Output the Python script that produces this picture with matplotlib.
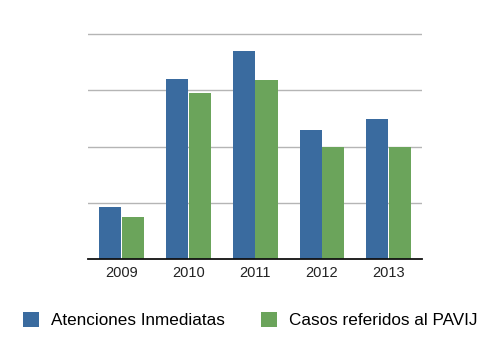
import numpy as np
import matplotlib.pyplot as plt
from matplotlib.patches import Patch

# Data (the y axis carries no labels)
years = ['2009', '2010', '2011', '2012', '2013']
atenciones = [0.93, 3.20, 3.70, 2.30, 2.49]
casos_pavij = [0.74, 2.95, 3.18, 2.00, 2.00]
series_names = ['Atenciones Inmediatas', 'Casos referidos al PAVIJ']

blue = '#3a6b9f'
green = '#6ba45b'

plt.rcParams['font.family'] = ['Liberation Sans', 'DejaVu Sans']

fig = plt.figure(figsize=(5.0, 3.59), dpi=100)
ax = fig.add_axes([0.1766, 0.2786, 0.6674, 0.6339])

x = np.arange(len(years))
w = 0.33
ax.bar(x - 0.17, atenciones, width=w, color=blue, zorder=3)
ax.bar(x + 0.17, casos_pavij, width=w, color=green, zorder=3)

ax.set_xlim(-0.5, len(years) - 0.5)
ax.set_ylim(0, 4.05)
ax.set_xticks(x)
ax.set_xticklabels(years, fontsize=10.5, color='#222222')
ax.set_yticks([1, 2, 3, 4])
ax.set_yticklabels([])
ax.tick_params(axis='both', length=0, pad=5)
ax.grid(axis='y', color='#b5b5b5', linewidth=1.0, zorder=0)

# Despine, keep a dark baseline
for edge in ['left', 'right', 'top']:
    ax.spines[edge].set_visible(False)
ax.spines['bottom'].set_color('#111111')
ax.spines['bottom'].set_linewidth(1.3)
ax.spines['bottom'].set_zorder(4)

handles = [Patch(facecolor=blue), Patch(facecolor=green)]
fig.legend(handles, series_names, loc='center', ncol=2,
           bbox_to_anchor=(0.5, 1 - 320 / 359), frameon=False,
           fontsize=12.3, handlelength=0.94, handleheight=0.94,
           handletextpad=0.7, columnspacing=2.1)

fig.savefig('out.png', dpi=100)
